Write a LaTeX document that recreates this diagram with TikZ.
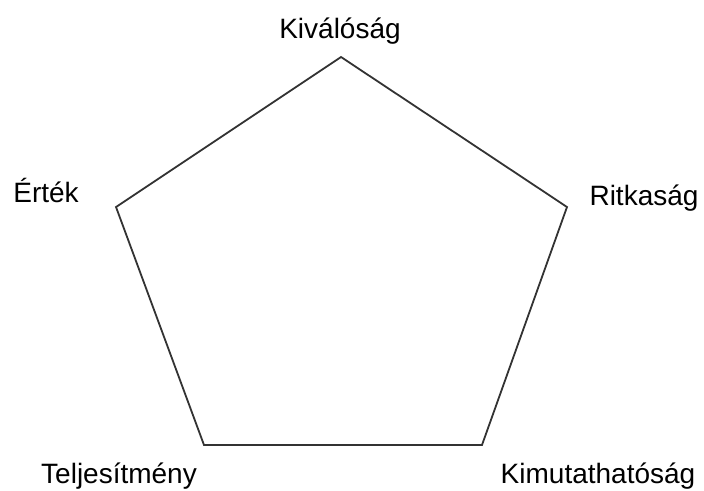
\documentclass[tikz,border=0pt]{standalone}
\usepackage{fontspec}
\setmainfont{Liberation Sans}
\begin{document}
\begin{tikzpicture}[x=1pt,y=-1pt,
  lbl/.style={anchor=base,inner sep=0pt,font=\fontsize{28}{31}\selectfont,text=black},
  edge/.style={draw=black!80,line width=1.8pt,line join=miter}]
\useasboundingbox (0,0) rectangle (704,490);
\coordinate (t) at (341,57);
\coordinate (r) at (567,207);
\coordinate (br) at (482,445);
\coordinate (bl) at (204,445);
\coordinate (l) at (116,207);
\draw[edge] (t) -- (r) -- (br) -- (bl) -- (l) -- cycle;
\node[lbl] (kt) at (340,38) {Kiválóság};
\node[lbl] (kl) at (46,202) {Érték};
\node[lbl] (kr) at (644,205) {Ritkaság};
\node[lbl] (kbl) at (119,483) {Teljesítmény};
\node[lbl] (kbr) at (598,483) {Kimutathatóság};
\end{tikzpicture}
\end{document}
